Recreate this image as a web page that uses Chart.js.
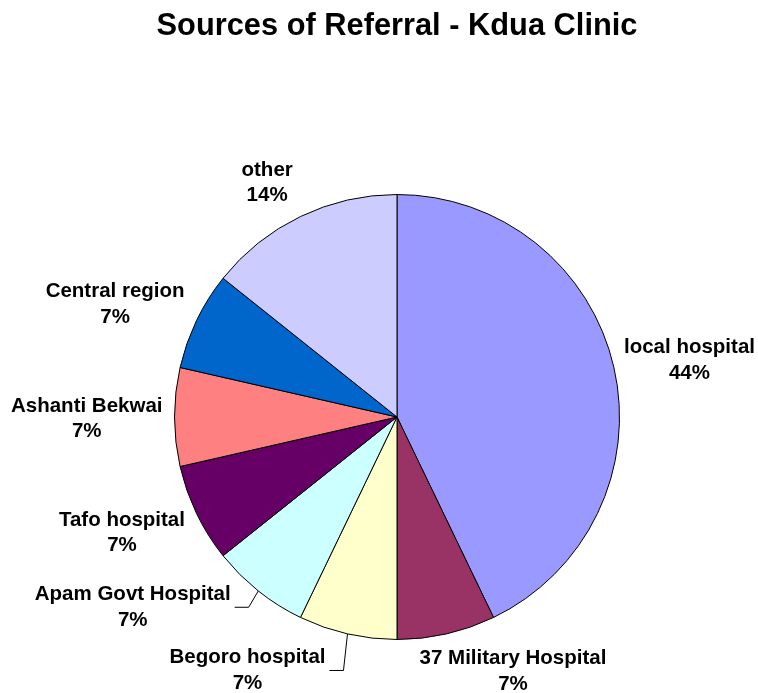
<!DOCTYPE html>
<html>
<head>
<meta charset="utf-8">
<script src="https://cdn.jsdelivr.net/npm/chart.js@4"></script>
<style>
  html, body { margin: 0; padding: 0; background: #fff; }
  #wrap { width: 758px; height: 693px; position: relative; }
</style>
</head>
<body>
<div id="wrap"><canvas id="ch-ref"></canvas></div>
<script>
// ── Dados ──
const TITULO     = 'Sources of Referral - Kdua Clinic';
const categorias = ['local hospital', '37 Military Hospital', 'Begoro hospital', 'Apam Govt Hospital',
                    'Tafo hospital', 'Ashanti Bekwai', 'Central region', 'other'];
const contagens  = [6, 1, 1, 1, 1, 1, 1, 2];
const rotulosPct = ['44%', '7%', '7%', '7%', '7%', '7%', '7%', '14%'];

// ── Cores (paleta Excel clássica) ──
const CORES = ['#9999FF', '#993366', '#FFFFCC', '#CCFFFF', '#660066', '#FF8080', '#0066CC', '#CCCCFF'];

// ajustes manuais dos rótulos (como arrastados no Excel) e linhas de chamada
const AJUSTE_ROTULO = [[0, -1], [43, -1], [-80, -2], [-57, -15], [-7, 1], [0, 0], [-8, -2], [-17, -2]];
const COM_LINHA     = [false, false, true, true, false, false, false, false];

const FONTE = "'Liberation Sans', Arial, sans-serif";

// ── Título centrado sobre a pizza (o título do Chart.js é comprimido pelo padding lateral) ──
const tituloPizza = {
  id: 'tituloPizza',
  afterDraw(chart) {
    const ctx = chart.ctx;
    const ca = chart.chartArea;
    ctx.save();
    ctx.font = 'bold 30.8px ' + FONTE;
    ctx.fillStyle = '#000';
    ctx.textAlign = 'center';
    ctx.textBaseline = 'alphabetic';
    ctx.fillText(TITULO, (ca.left + ca.right) / 2, 35);
    ctx.restore();
  }
};

// ── Plugin: rótulos externos com nome + percentual ──
const rotulosExternos = {
  id: 'rotulosExternos',
  afterDatasetsDraw(chart) {
    const ctx = chart.ctx;
    const meta = chart.getDatasetMeta(0);
    const gap = 12, passo = 25.5;
    ctx.save();
    ctx.font = 'bold 20.5px ' + FONTE;
    ctx.fillStyle = '#000';
    ctx.textAlign = 'center';
    ctx.textBaseline = 'middle';
    meta.data.forEach((arc, i) => {
      const mid = (arc.startAngle + arc.endAngle) / 2;
      const c = Math.cos(mid), s = Math.sin(mid);
      const r = arc.outerRadius;
      const l1 = chart.data.labels[i], l2 = rotulosPct[i];
      const w = Math.max(ctx.measureText(l1).width, ctx.measureText(l2).width);
      const h = passo * 2;
      const px = arc.x + c * (r + gap), py = arc.y + s * (r + gap);
      const cx = px + c * w / 2 + AJUSTE_ROTULO[i][0];
      const cy = py + s * h / 2 + AJUSTE_ROTULO[i][1] + 2;
      ctx.fillText(l1, cx, cy - passo / 2);
      ctx.fillText(l2, cx, cy + passo / 2);
      if (COM_LINHA[i]) {
        const x0 = cx + w / 2 + 4;
        ctx.beginPath();
        ctx.strokeStyle = '#000';
        ctx.lineWidth = 1;
        ctx.moveTo(x0, cy);
        ctx.lineTo(x0 + 14, cy);
        ctx.lineTo(arc.x + c * r, arc.y + s * r);
        ctx.stroke();
      }
    });
    ctx.restore();
  }
};

new Chart(document.getElementById('ch-ref').getContext('2d'), {
  type: 'pie',
  data: {
    labels: categorias,
    datasets: [{ data: contagens, backgroundColor: CORES, borderColor: '#000', borderWidth: 1 }]
  },
  plugins: [rotulosExternos, tituloPizza],
  options: {
    responsive: true, maintainAspectRatio: false, animation: false,
    layout: { padding: { top: 194, bottom: 53, left: 174, right: 138 } },
    plugins: {
      legend: { display: false },
      tooltip: { enabled: false },
      title: { display: false }
    }
  }
});
</script>
</body>
</html>
